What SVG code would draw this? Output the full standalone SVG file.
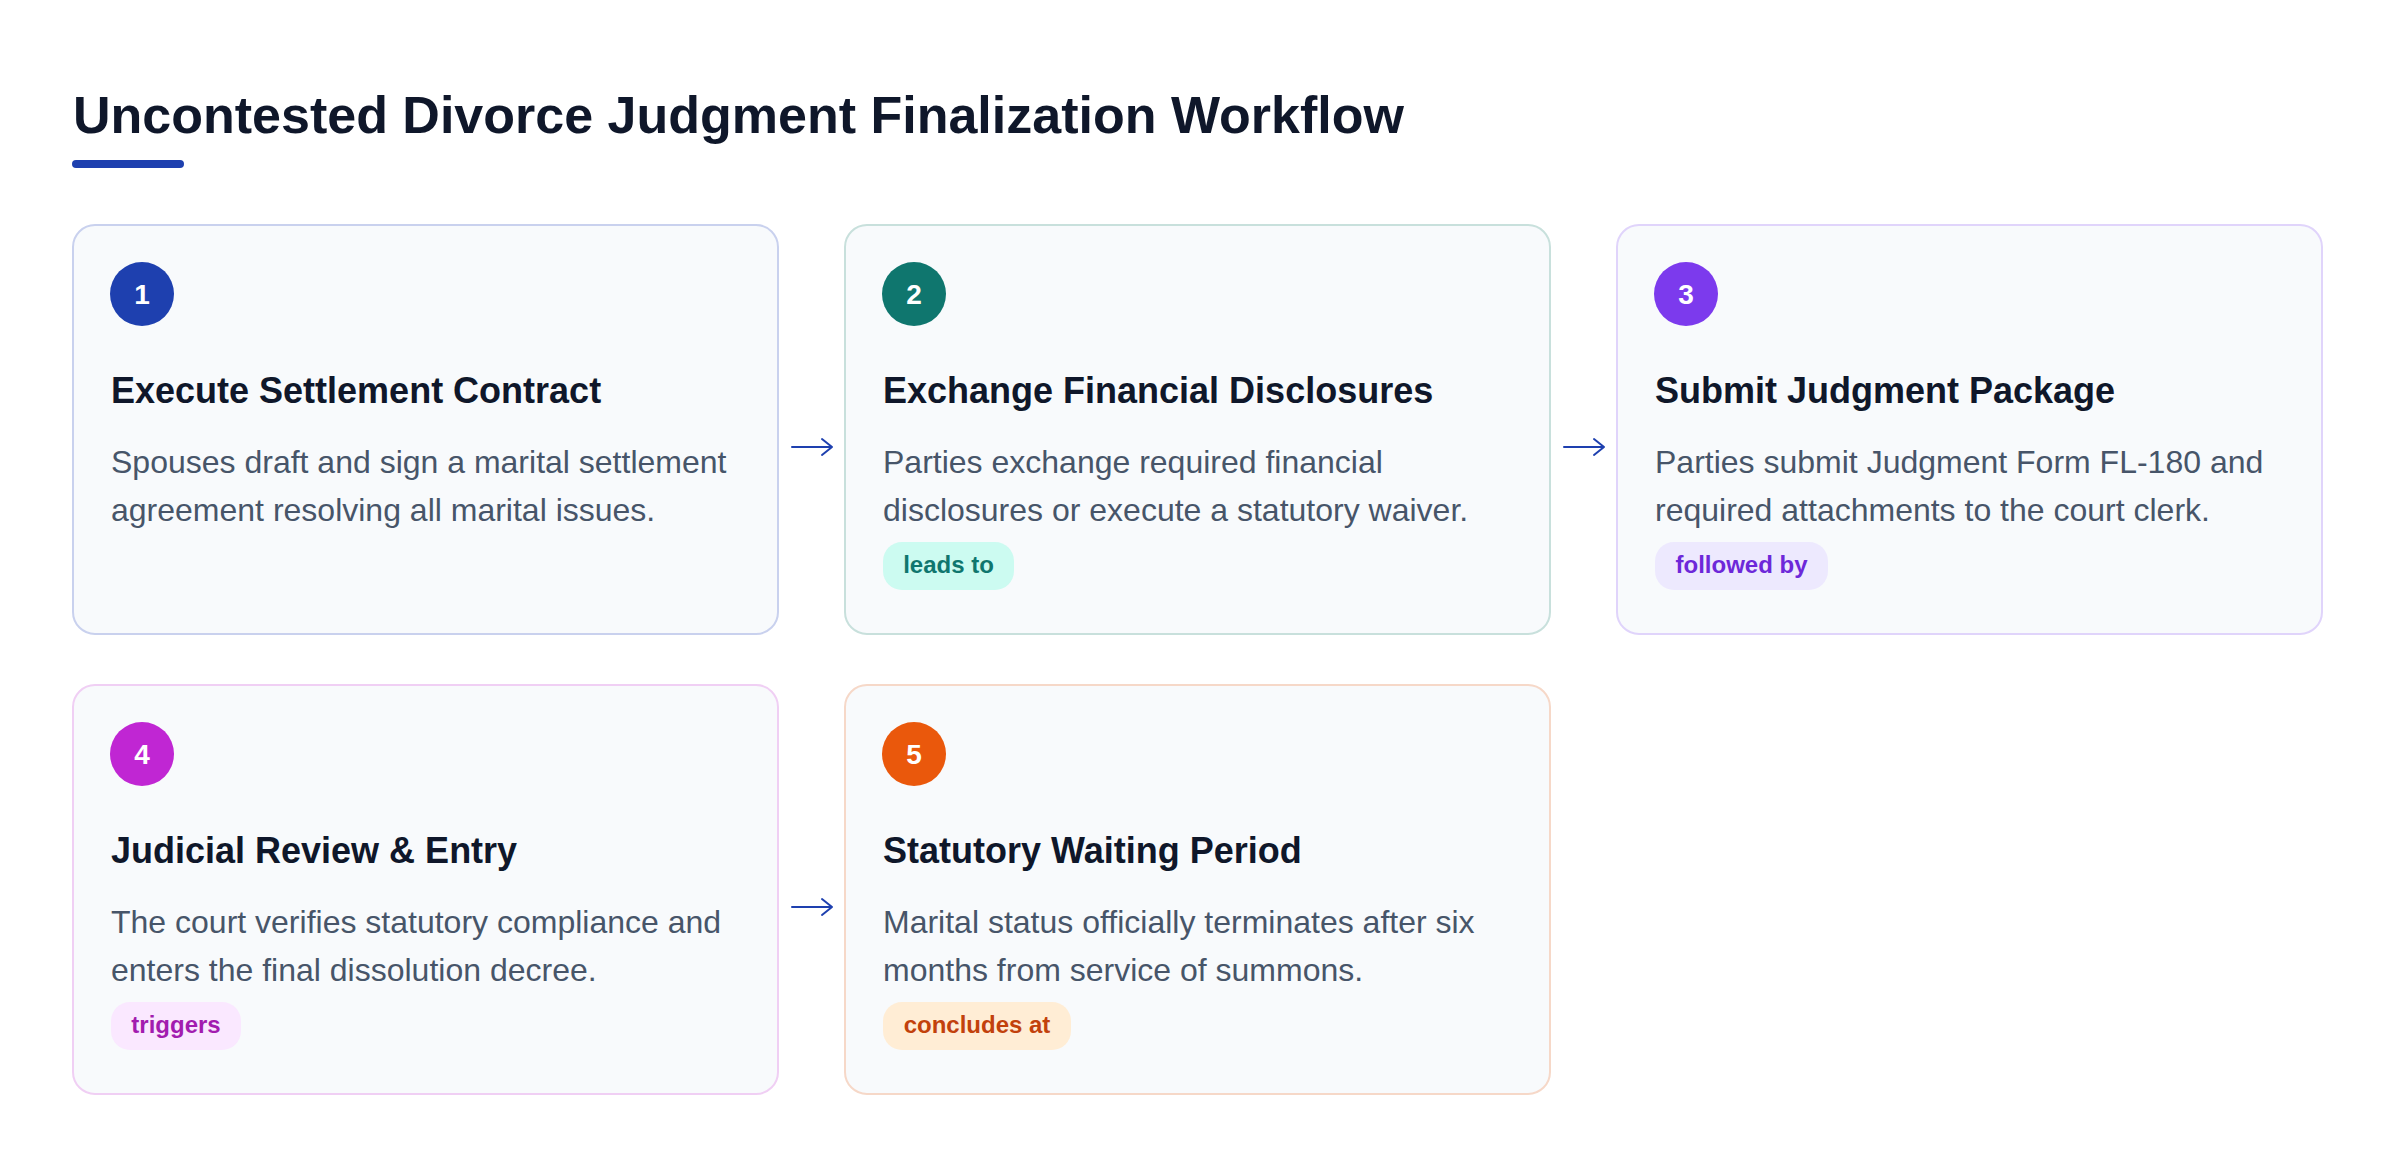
<svg xmlns="http://www.w3.org/2000/svg" width="2400" height="1168" viewBox="0 0 2400 1168">
<defs>
<style>
.card{fill:#f8fafc;stroke-width:2}
.num{font-family:"Liberation Sans",Arial,sans-serif;font-weight:700;font-size:28px;fill:#ffffff;text-anchor:middle}
.head{font-family:"Liberation Sans",Arial,sans-serif;font-weight:700;font-size:36px;fill:#0f172a}
.desc{font-family:"Liberation Sans",Arial,sans-serif;font-size:32px;fill:#475569}
.badge{font-family:"Liberation Sans",Arial,sans-serif;font-weight:700;font-size:24px;text-anchor:middle}
.title{font-family:"Liberation Sans",Arial,sans-serif;font-weight:700;font-size:52px;fill:#0f172a}
.conn{fill:none;stroke:#1e40af;stroke-width:2;stroke-linecap:round;stroke-linejoin:round}
</style>
</defs>
<rect width="2400" height="1168" fill="#ffffff"/>
<g id="header">
<text class="title" x="73" y="133">Uncontested Divorce Judgment Finalization Workflow</text>
<rect x="72" y="160" width="112" height="8" rx="4" fill="#1e40af"/>
</g>
<g id="node1">
<rect class="card" x="73" y="225" width="705" height="409" rx="22" stroke="#c9d1ee"/>
<circle cx="142" cy="294" r="32" fill="#1e40af"/>
<text class="num" x="142" y="304">1</text>
<text class="head" x="111" y="403">Execute Settlement Contract</text>
<text class="desc" x="111" y="473">Spouses draft and sign a marital settlement</text>
<text class="desc" x="111" y="521">agreement resolving all marital issues.</text>
</g>
<g id="node2">
<rect class="card" x="845" y="225" width="705" height="409" rx="22" stroke="#c8e0dc"/>
<circle cx="914" cy="294" r="32" fill="#0f766e"/>
<text class="num" x="914" y="304">2</text>
<text class="head" x="883" y="403">Exchange Financial Disclosures</text>
<text class="desc" x="883" y="473">Parties exchange required financial</text>
<text class="desc" x="883" y="521">disclosures or execute a statutory waiver.</text>
<rect x="883" y="542" width="131" height="48" rx="19" fill="#ccfbf1"/>
<text class="badge" x="948.5" y="573" fill="#0f766e">leads to</text>
</g>
<g id="node3">
<rect class="card" x="1617" y="225" width="705" height="409" rx="22" stroke="#e0d4fb"/>
<circle cx="1686" cy="294" r="32" fill="#7c3aed"/>
<text class="num" x="1686" y="304">3</text>
<text class="head" x="1655" y="403">Submit Judgment Package</text>
<text class="desc" x="1655" y="473">Parties submit Judgment Form FL-180 and</text>
<text class="desc" x="1655" y="521">required attachments to the court clerk.</text>
<rect x="1655" y="542" width="173" height="48" rx="19" fill="#ede9fe"/>
<text class="badge" x="1741.5" y="573" fill="#6d28d9">followed by</text>
</g>
<g id="node4">
<rect class="card" x="73" y="685" width="705" height="409" rx="22" stroke="#f0cff4"/>
<circle cx="142" cy="754" r="32" fill="#c026d3"/>
<text class="num" x="142" y="764">4</text>
<text class="head" x="111" y="863">Judicial Review &amp; Entry</text>
<text class="desc" x="111" y="933">The court verifies statutory compliance and</text>
<text class="desc" x="111" y="981">enters the final dissolution decree.</text>
<rect x="111" y="1002" width="130" height="48" rx="19" fill="#fae8ff"/>
<text class="badge" x="176" y="1033" fill="#a21caf">triggers</text>
</g>
<g id="node5">
<rect class="card" x="845" y="685" width="705" height="409" rx="22" stroke="#f6d8c8"/>
<circle cx="914" cy="754" r="32" fill="#ea580c"/>
<text class="num" x="914" y="764">5</text>
<text class="head" x="883" y="863">Statutory Waiting Period</text>
<text class="desc" x="883" y="933">Marital status officially terminates after six</text>
<text class="desc" x="883" y="981">months from service of summons.</text>
<rect x="883" y="1002" width="188" height="48" rx="19" fill="#ffedd5"/>
<text class="badge" x="977" y="1033" fill="#c2410c">concludes at</text>
</g>
<g id="connectors">
<path class="conn" d="M792 447 H832 M822 439 L832 447 L822 455"/>
<path class="conn" d="M1564 447 H1604 M1594 439 L1604 447 L1594 455"/>
<path class="conn" d="M792 907 H832 M822 899 L832 907 L822 915"/>
</g>
</svg>
